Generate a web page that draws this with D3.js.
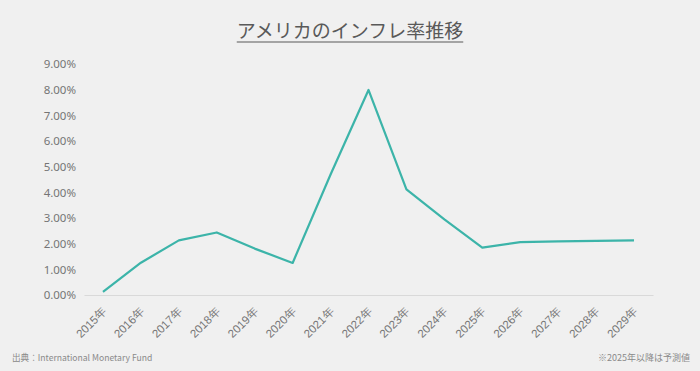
<!DOCTYPE html>
<html><head><meta charset="utf-8">
<script src="https://cdn.jsdelivr.net/npm/d3@7"></script>
<style>
body{margin:0;background:#f0f0f0;}
svg{display:block;font-family:"Noto Sans CJK JP","Noto Sans",sans-serif;}
</style></head><body>
<svg id="c" width="700" height="371"></svg>
<script>
const years = ["2015年","2016年","2017年","2018年","2019年","2020年","2021年","2022年","2023年","2024年","2025年","2026年","2027年","2028年","2029年"];
const inflation = [0.12,1.26,2.13,2.44,1.81,1.25,4.70,8.00,4.12,2.95,1.85,2.06,2.09,2.11,2.13];
const yTicks = [0,1,2,3,4,5,6,7,8,9];
const title = "アメリカのインフレ率推移";
const source = "出典：International Monetary Fund";
const note = "※2025年以降は予測値";

const svg = d3.select("#c");
svg.append("rect").attr("width",700).attr("height",371).attr("fill","#f0f0f0");

const x = d3.scalePoint().domain(years).range([84,653]).padding(0.5);
const y = d3.scaleLinear().domain([0,9]).range([295,64.3]);

// title
const t = svg.append("text").attr("x",350).attr("y",38).attr("text-anchor","middle")
  .attr("font-size",19).attr("fill","#595959").text(title);
const bb = t.node().getBBox();
svg.append("line").attr("x1",bb.x).attr("x2",bb.x+bb.width).attr("y1",42).attr("y2",42)
  .attr("stroke","#595959").attr("stroke-width",1.2);

// y axis
const ya = svg.append("g").attr("transform","translate(84,0)")
  .call(d3.axisLeft(y).tickValues(yTicks).tickSize(0).tickPadding(8).tickFormat(d=>d3.format(".2f")(d)+"%"));
ya.select(".domain").remove();
ya.selectAll("text").attr("font-size",11.5).attr("fill","#757575").attr("font-family","'Noto Sans',sans-serif");

// x axis
const xa = svg.append("g").attr("transform","translate(0,295)")
  .call(d3.axisBottom(x).tickSize(0).tickPadding(0));
xa.select(".domain").attr("stroke","#d9d9d9").attr("stroke-width",1);
xa.selectAll("text").attr("font-size",11.5).attr("fill","#757575")
  .attr("text-anchor","end").attr("dy",0)
  .attr("transform","translate(4,17) rotate(-45)");

// line
svg.append("path").datum(inflation)
  .attr("fill","none").attr("stroke","#3cb4a9").attr("stroke-width",2.2).attr("stroke-linejoin","round")
  .attr("d",d3.line().x((d,i)=>x(years[i])).y(d=>y(d)));

svg.append("text").attr("x",12).attr("y",361).attr("font-size",8.6).attr("fill","#8a8a8a").text(source);
svg.append("text").attr("x",690).attr("y",361).attr("text-anchor","end").attr("font-size",9).attr("fill","#8a8a8a").text(note);
</script></body></html>
